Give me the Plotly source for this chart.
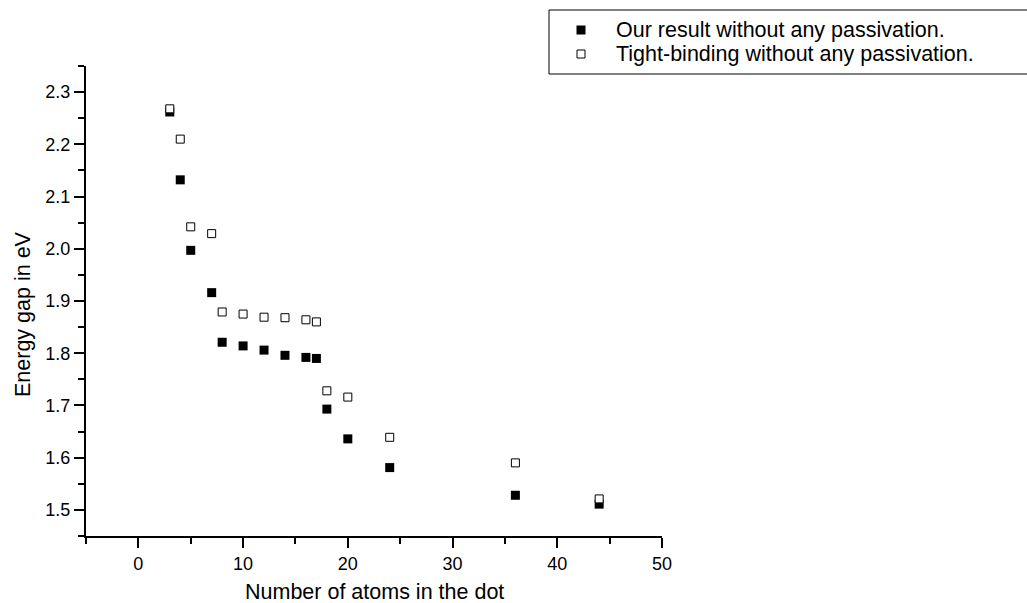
import plotly.graph_objects as go

atoms = [3, 4, 5, 7, 8, 10, 12, 14, 16, 17, 18, 20, 24, 36, 44]
our_gap = [2.262, 2.132, 1.997, 1.916, 1.821, 1.814, 1.806, 1.796, 1.792, 1.790,
           1.693, 1.636, 1.581, 1.528, 1.511]
tb_gap = [2.268, 2.210, 2.042, 2.029, 1.879, 1.875, 1.869, 1.868, 1.864, 1.860,
          1.728, 1.716, 1.639, 1.590, 1.521]

x_ticks = [0, 10, 20, 30, 40, 50]
y_ticks = [1.5, 1.6, 1.7, 1.8, 1.9, 2.0, 2.1, 2.2, 2.3]

series_names = ["Our result without any passivation.",
                "Tight-binding without any passivation."]
x_title = "Number of atoms in the dot"
y_title = "Energy gap in eV"

FONT = "Liberation Sans, Arial, sans-serif"
W, H = 1027, 603
ML, MR, MT, MB = 86, 365, 66, 67
PW, PH = W - ML - MR, H - MT - MB


def px(xp):
    return (xp - ML) / PW


def py(yp):
    return (H - MB - yp) / PH


fig = go.Figure()
fig.add_trace(go.Scatter(
    x=atoms, y=our_gap, mode="markers", name=series_names[0], showlegend=False,
    marker=dict(symbol="square", size=9, color="black", line=dict(width=0)),
))
fig.add_trace(go.Scatter(
    x=atoms, y=tb_gap, mode="markers", name=series_names[1], showlegend=False,
    marker=dict(symbol="square", size=8, color="white", line=dict(width=1, color="black")),
))

axis_common = dict(
    showline=True, linecolor="black", linewidth=2,
    ticks="outside", ticklen=10, tickwidth=2, tickcolor="black",
    showgrid=False, zeroline=False, mirror=False,
    tickfont=dict(family=FONT, size=18, color="black"),
)

# legend box, keys and labels
box_l, box_t, box_b = 549, 10, 74
rows = [30, 54]
key_x = 581
text_x = 614
shapes = [dict(
    type="rect", xref="paper", yref="paper",
    x0=px(box_l), x1=px(W + 20), y0=py(box_b), y1=py(box_t),
    line=dict(color="black", width=1), fillcolor="white", layer="above",
)]
key_styles = [dict(fill="black", lw=0, half=4.5), dict(fill="white", lw=1, half=4)]
annotations = []
for row_y, name, ks in zip(rows, series_names, key_styles):
    shapes.append(dict(
        type="rect", xref="paper", yref="paper",
        x0=px(key_x - ks["half"]), x1=px(key_x + ks["half"]),
        y0=py(row_y + ks["half"]), y1=py(row_y - ks["half"]),
        line=dict(color="black", width=ks["lw"]), fillcolor=ks["fill"], layer="above",
    ))
    annotations.append(dict(
        text=name, xref="paper", yref="paper", x=px(text_x), y=py(row_y),
        xanchor="left", yanchor="middle", showarrow=False,
        font=dict(family=FONT, size=21.5, color="black"),
    ))

annotations.append(dict(
    text=x_title, xref="paper", yref="paper",
    x=px(374), y=py(592), xanchor="center", yanchor="middle", showarrow=False,
    font=dict(family=FONT, size=21.5, color="black"),
))
annotations.append(dict(
    text=y_title, xref="paper", yref="paper", textangle=-90,
    x=px(23), y=py(314), xanchor="center", yanchor="middle", showarrow=False,
    font=dict(family=FONT, size=21.5, color="black"),
))

fig.update_layout(
    width=W, height=H,
    margin=dict(l=ML, r=MR, t=MT, b=MB),
    paper_bgcolor="white", plot_bgcolor="white",
    font=dict(family=FONT, color="black"),
    showlegend=False,
    xaxis=dict(
        range=[-5, 50], tickvals=x_ticks, ticktext=[str(v) for v in x_ticks],
        minor=dict(dtick=5, tick0=0, ticks="outside", ticklen=6, tickwidth=2, tickcolor="black"),
        **axis_common,
    ),
    yaxis=dict(
        range=[1.45, 2.35], tickvals=y_ticks, ticktext=[f"{v:.1f}" for v in y_ticks],
        minor=dict(dtick=0.05, tick0=1.45, ticks="outside", ticklen=6, tickwidth=2, tickcolor="black"),
        **axis_common,
    ),
    shapes=shapes,
    annotations=annotations,
)

fig.write_html("out.html")
